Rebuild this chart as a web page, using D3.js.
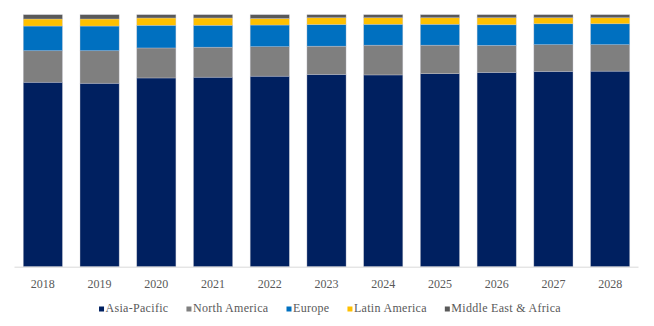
<!DOCTYPE html>
<html>
<head>
<meta charset="utf-8">
<script src="https://cdn.jsdelivr.net/npm/d3@7"></script>
<style>
  html, body { margin: 0; padding: 0; background: #fff; }
  svg { display: block; }
  svg text { font-family: "Times New Roman", "Liberation Serif", Tinos, serif !important; }
</style>
</head>
<body>
<svg id="chart" width="654" height="326"></svg>
<script>
const years = ["2018","2019","2020","2021","2022","2023","2024","2025","2026","2027","2028"];
const seriesNames = ["Asia-Pacific","North America","Europe","Latin America","Middle East & Africa"];
const seriesColors = ["#002060","#7F7F7F","#0070C0","#FFC000","#595959"];
const asiaPacific   = [73.2, 72.8, 74.9, 75.2, 75.6, 76.3, 76.1, 76.6, 77.1, 77.5, 77.6];
const northAmerica  = [12.5, 12.9, 11.9, 11.9, 11.7, 11.2, 11.8, 11.3, 10.7, 10.6, 10.5];
const europe        = [ 9.8,  9.8,  9.0,  8.7,  8.6,  8.6,  8.3,  8.3,  8.2,  8.3,  8.3];
const latinAmerica  = [ 2.8,  2.8,  2.9,  2.9,  2.6,  2.7,  2.6,  2.6,  2.8,  2.4,  2.4];
const middleEastAfrica = [1.7, 1.7, 1.3, 1.3, 1.5, 1.2, 1.2, 1.2, 1.2, 1.2, 1.2];

const seriesValues = [asiaPacific, northAmerica, europe, latinAmerica, middleEastAfrica];
const rows = years.map((y, i) => {
  const r = { year: y };
  seriesNames.forEach((s, j) => r[s] = seriesValues[j][i]);
  return r;
});
const stacked = d3.stack().keys(seriesNames).offset(d3.stackOffsetExpand)(rows);

const svg = d3.select("#chart");
const plotLeft = 14.5, plotRight = 638.5, plotTop = 14.7, plotBottom = 266.7;

const x = d3.scaleBand().domain(years).range([plotLeft, plotRight]).paddingInner(0.31).paddingOuter(0.155);
const y = d3.scaleLinear().domain([0, 1]).range([plotBottom, plotTop]);
const color = d3.scaleOrdinal().domain(seriesNames).range(seriesColors);

svg.append("g").selectAll("g").data(stacked).join("g")
  .attr("fill", d => color(d.key))
  .selectAll("rect").data(d => d).join("rect")
  .attr("x", d => x(d.data.year))
  .attr("width", x.bandwidth())
  .attr("y", d => y(d[1]))
  .attr("height", d => y(d[0]) - y(d[1]))
  .attr("stroke", "rgba(200,200,210,0.6)")
  .attr("stroke-width", 0.6);

const xAxis = svg.append("g").attr("transform", `translate(0,${plotBottom})`)
  .call(d3.axisBottom(x).tickSize(0).tickPadding(13));
xAxis.attr("font-family", null);
xAxis.select(".domain").attr("stroke", "#d9d9d9").attr("stroke-width", 1)
  .attr("d", `M${plotLeft},0.5H${plotRight}`);
xAxis.selectAll("text")
  .attr("fill", "#595959")
  .style("font-size", "12px");

// legend
const legend = svg.append("g");
const items = legend.selectAll("g").data(seriesNames).join("g");
items.append("rect").attr("width", 5).attr("height", 5).attr("y", -5.5)
  .attr("fill", d => color(d));
items.append("text").attr("x", 6.5).attr("y", 0)
  .attr("fill", "#595959")
  .style("font-size", "12px")
  .style("letter-spacing", "0.3px")
  .text(d => d);
let cx = 0;
const gap = 18;
items.each(function() {
  const g = d3.select(this);
  g.attr("transform", `translate(${cx},0)`);
  cx += 6.5 + g.select("text").node().getComputedTextLength() + gap;
});
const total = cx - gap;
legend.attr("transform", `translate(${(654 - total) / 2 + 3},312)`);
</script>
</body>
</html>
